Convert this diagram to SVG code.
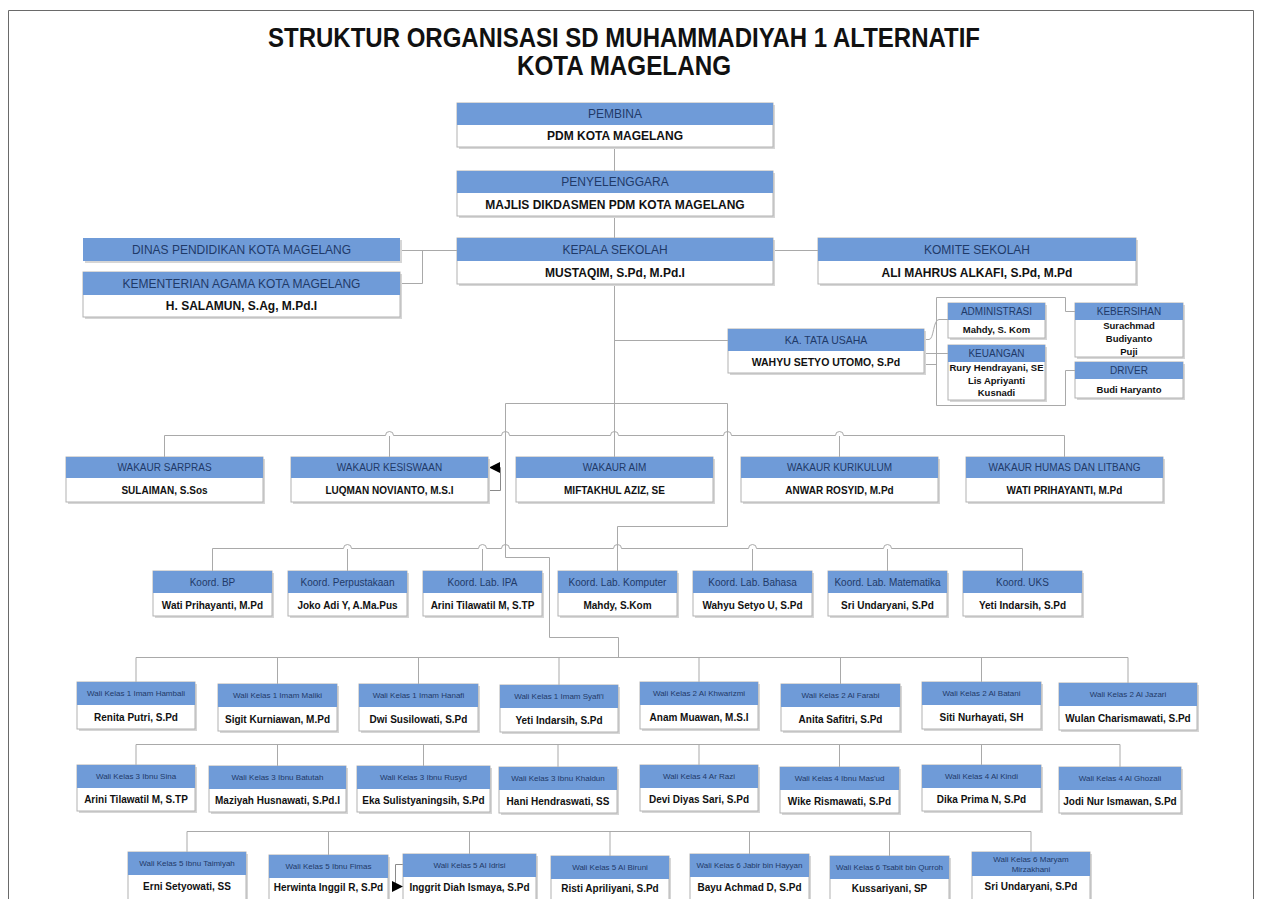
<svg xmlns="http://www.w3.org/2000/svg" width="1261" height="899" viewBox="0 0 1261 899">
<style>
.bg{fill:#ffffff}
.fr{fill:none;stroke:#6a6a6a;stroke-width:1}
.sh{fill:#d6d6d6}
.bd{fill:#ffffff;stroke:#b2b2b2;stroke-width:1}
.hd{fill:#6f9bd8}
.ln{fill:none;stroke:#a9a9a9;stroke-width:1}
.t{font-family:"Liberation Sans",Arial,Helvetica,sans-serif;text-anchor:middle}
.tt{font-family:"Liberation Sans Narrow","Liberation Sans",Arial,sans-serif;font-weight:bold;font-size:27px;fill:#111;text-anchor:middle}
.h1{font-size:12px;fill:#1f3a68}
.n1{font-size:12px;font-weight:bold;fill:#111}
.h2{font-size:10.5px;fill:#1f3a68}
.n2{font-size:10.5px;font-weight:bold;fill:#111}
.h3{font-size:10px;fill:#1f3a68}
.n3{font-size:10px;font-weight:bold;fill:#111}
.n4{font-size:9.5px;font-weight:bold;fill:#111}
.h5{font-size:8px;fill:#1f3a68}
.n5{font-size:10px;font-weight:bold;fill:#111}
</style>
<defs>
<marker id="ar" viewBox="0 0 10 10" refX="10" refY="5" markerWidth="11" markerHeight="11" markerUnits="userSpaceOnUse" orient="auto"><path d="M0,0 L10,5 L0,10 z" fill="#000"/></marker>
</defs>
<rect class="bg" x="0" y="0" width="1261" height="899"/>
<path class="fr" d="M8.5,899 V10.5 H1253.5 V899"/>
<g id="title">
<text class="tt" x="624" y="47" textLength="712" lengthAdjust="spacingAndGlyphs">STRUKTUR ORGANISASI SD MUHAMMADIYAH 1 ALTERNATIF</text>
<text class="tt" x="624" y="75" textLength="214" lengthAdjust="spacingAndGlyphs">KOTA MAGELANG</text>
</g>
<g id="connectors">
<path class="ln" d="M614.5,147 V171"/>
<path class="ln" d="M614.5,216 V238"/>
<path class="ln" d="M400,250.5 H457"/>
<path class="ln" d="M422.5,250.5 V283.5 H400"/>
<path class="ln" d="M773,250.5 H818"/>
<path class="ln" d="M614.5,284 V457"/>
<path class="ln" d="M614.5,340.5 H728"/>
<path class="ln" d="M936.5,297.5 H1065.5 V311.5 H1075"/>
<path class="ln" d="M936.5,297.5 V405.5 H1065.5 V370.5 H1075"/>
<path class="ln" d="M924,339.5 H929 C934,339.5 933,319.5 939,319.5 H948"/>
<path class="ln" d="M924,353.5 H948"/>
<path class="ln" d="M924,364.5 H936.5"/>
<path class="ln" d="M505.5,403.5 H727.5"/>
<path class="ln" d="M164.5,457 V435.5 H385.5 A4,4 0 0 1 393.5,435.5 H501.5 A4,4 0 0 1 509.5,435.5 H610.5 A4,4 0 0 1 618.5,435.5 H723.5 A4,4 0 0 1 731.5,435.5 H835.5 A4,4 0 0 1 843.5,435.5 H1064.5 V457"/>
<path class="ln" d="M389.5,436 V457"/>
<path class="ln" d="M839.5,436 V457"/>
<path class="ln" d="M505.5,403.5 V557.5 H549.5 V637.5 H618.5 V657"/>
<path class="ln" d="M727.5,403.5 V526.5 H617.5 V571"/>
<path class="ln" d="M212.5,571 V548.5 H343.5 A4,4 0 0 1 351.5,548.5 H478.5 A4,4 0 0 1 486.5,548.5 H501.5 A4,4 0 0 1 509.5,548.5 H613.5 A4,4 0 0 1 621.5,548.5 H748.5 A4,4 0 0 1 756.5,548.5 H883.5 A4,4 0 0 1 891.5,548.5 H1022.5 V571"/>
<path class="ln" d="M347.5,549 V571 M482.5,549 V571 M752.5,549 V571 M887.5,549 V571"/>
<path class="ln" d="M136,682 V657.5 H1128 V683 M277.5,657.5 V684 M418.5,657.5 V684 M559,657.5 V685 M699,657.5 V682 M840.5,657.5 V684 M981.5,657.5 V682"/>
<path class="ln" d="M136,765 V744.5 H1120 V767 M277.5,744.5 V766 M423.5,744.5 V766 M558,744.5 V767 M699,744.5 V765 M839.5,744.5 V767 M981.5,744.5 V765"/>
<path class="ln" d="M187,852 V831.5 H1031 V852 M328.5,831.5 V855 M469.5,831.5 V854 M610,831.5 V856 M749.5,831.5 V854 M889.5,831.5 V856"/>
<path class="ln" d="M489,490.5 H500.5 V467.5 H489" marker-end="url(#ar)" style="stroke:#8a8a8a"/>
<path class="ln" d="M403,864.5 H395.5 V886.5 H403" marker-end="url(#ar)" style="stroke:#8a8a8a"/>
</g>
<g id="pembina">
<rect class="sh" x="459" y="105" width="316" height="44"/>
<rect class="bd" x="457" y="103" width="316" height="44"/>
<rect class="hd" x="457" y="103" width="316" height="22"/>
<text class="t h1" x="615" y="118">PEMBINA</text>
<text class="t n1" x="615" y="140">PDM KOTA MAGELANG</text>
</g>
<g id="penyelenggara">
<rect class="sh" x="459" y="173" width="316" height="45"/>
<rect class="bd" x="457" y="171" width="316" height="45"/>
<rect class="hd" x="457" y="171" width="316" height="22"/>
<text class="t h1" x="615" y="186">PENYELENGGARA</text>
<text class="t n1" x="615" y="209">MAJLIS DIKDASMEN PDM KOTA MAGELANG</text>
</g>
<g id="kepala-sekolah">
<rect class="sh" x="459" y="240" width="316" height="46"/>
<rect class="bd" x="457" y="238" width="316" height="46"/>
<rect class="hd" x="457" y="238" width="316" height="23"/>
<text class="t h1" x="615" y="254">KEPALA SEKOLAH</text>
<text class="t n1" x="615" y="277">MUSTAQIM, S.Pd, M.Pd.I</text>
</g>
<g id="dinas-pendidikan">
<rect class="sh" x="85" y="240" width="317" height="23"/>
<rect class="hd" x="83" y="238" width="317" height="23"/>
<text class="t h1" x="241.5" y="254">DINAS PENDIDIKAN KOTA MAGELANG</text>
</g>
<g id="kementerian-agama">
<rect class="sh" x="85" y="274" width="317" height="45"/>
<rect class="bd" x="83" y="272" width="317" height="45"/>
<rect class="hd" x="83" y="272" width="317" height="23"/>
<text class="t h1" x="241.5" y="288">KEMENTERIAN AGAMA KOTA MAGELANG</text>
<text class="t n1" x="241.5" y="310">H. SALAMUN, S.Ag, M.Pd.I</text>
</g>
<g id="komite-sekolah">
<rect class="sh" x="820" y="240" width="318" height="46"/>
<rect class="bd" x="818" y="238" width="318" height="46"/>
<rect class="hd" x="818" y="238" width="318" height="23"/>
<text class="t h1" x="977" y="254">KOMITE SEKOLAH</text>
<text class="t n1" x="977" y="277">ALI MAHRUS ALKAFI, S.Pd, M.Pd</text>
</g>
<g id="tata-usaha">
<rect class="sh" x="730" y="331" width="196" height="44"/>
<rect class="bd" x="728" y="329" width="196" height="44"/>
<rect class="hd" x="728" y="329" width="196" height="22"/>
<text class="t h2" x="826" y="344">KA. TATA USAHA</text>
<text class="t n2" x="826" y="366">WAHYU SETYO UTOMO, S.Pd</text>
</g>
<g id="administrasi">
<rect class="sh" x="950" y="305" width="97" height="35"/>
<rect class="bd" x="948" y="303" width="97" height="35"/>
<rect class="hd" x="948" y="303" width="97" height="17"/>
<text class="t h3" x="996.5" y="315">ADMINISTRASI</text>
<text class="t n4" x="996.5" y="333">Mahdy, S. Kom</text>
</g>
<g id="keuangan">
<rect class="sh" x="950" y="347" width="97" height="55"/>
<rect class="bd" x="948" y="345" width="97" height="55"/>
<rect class="hd" x="948" y="345" width="97" height="17"/>
<text class="t h3" x="996.5" y="357">KEUANGAN</text>
<text class="t n4" x="996.5" y="371">Rury Hendrayani, SE</text>
<text class="t n4" x="996.5" y="384">Lis Apriyanti</text>
<text class="t n4" x="996.5" y="396">Kusnadi</text>
</g>
<g id="kebersihan">
<rect class="sh" x="1077" y="305" width="108" height="54"/>
<rect class="bd" x="1075" y="303" width="108" height="54"/>
<rect class="hd" x="1075" y="303" width="108" height="17"/>
<text class="t h3" x="1129" y="315">KEBERSIHAN</text>
<text class="t n4" x="1129" y="329">Surachmad</text>
<text class="t n4" x="1129" y="342">Budiyanto</text>
<text class="t n4" x="1129" y="355">Puji</text>
</g>
<g id="driver">
<rect class="sh" x="1077" y="364" width="108" height="36"/>
<rect class="bd" x="1075" y="362" width="108" height="36"/>
<rect class="hd" x="1075" y="362" width="108" height="17"/>
<text class="t h3" x="1129" y="374">DRIVER</text>
<text class="t n4" x="1129" y="392.5">Budi Haryanto</text>
</g>
<g id="wakaur-sarpras">
<rect class="sh" x="68" y="459" width="197" height="45"/>
<rect class="bd" x="66" y="457" width="197" height="45"/>
<rect class="hd" x="66" y="457" width="197" height="21"/>
<text class="t h3" x="164.5" y="471">WAKAUR SARPRAS</text>
<text class="t n3" x="164.5" y="494">SULAIMAN, S.Sos</text>
</g>
<g id="wakaur-kesiswaan">
<rect class="sh" x="293" y="459" width="197" height="45"/>
<rect class="bd" x="291" y="457" width="197" height="45"/>
<rect class="hd" x="291" y="457" width="197" height="21"/>
<text class="t h3" x="389.5" y="471">WAKAUR KESISWAAN</text>
<text class="t n3" x="389.5" y="494">LUQMAN NOVIANTO, M.S.I</text>
</g>
<g id="wakaur-aim">
<rect class="sh" x="518" y="459" width="197" height="45"/>
<rect class="bd" x="516" y="457" width="197" height="45"/>
<rect class="hd" x="516" y="457" width="197" height="21"/>
<text class="t h3" x="614.5" y="471">WAKAUR AIM</text>
<text class="t n3" x="614.5" y="494">MIFTAKHUL AZIZ, SE</text>
</g>
<g id="wakaur-kurikulum">
<rect class="sh" x="743" y="459" width="197" height="45"/>
<rect class="bd" x="741" y="457" width="197" height="45"/>
<rect class="hd" x="741" y="457" width="197" height="21"/>
<text class="t h3" x="839.5" y="471">WAKAUR KURIKULUM</text>
<text class="t n3" x="839.5" y="494">ANWAR ROSYID, M.Pd</text>
</g>
<g id="wakaur-humas">
<rect class="sh" x="968" y="459" width="197" height="45"/>
<rect class="bd" x="966" y="457" width="197" height="45"/>
<rect class="hd" x="966" y="457" width="197" height="21"/>
<text class="t h3" x="1064.5" y="471">WAKAUR HUMAS DAN LITBANG</text>
<text class="t n3" x="1064.5" y="494">WATI PRIHAYANTI, M.Pd</text>
</g>
<g id="koord-bp">
<rect class="sh" x="155" y="573" width="119" height="45"/>
<rect class="bd" x="153" y="571" width="119" height="45"/>
<rect class="hd" x="153" y="571" width="119" height="22"/>
<text class="t h3" x="212.5" y="585.5">Koord. BP</text>
<text class="t n3" x="212.5" y="608.5">Wati Prihayanti, M.Pd</text>
</g>
<g id="koord-perpustakaan">
<rect class="sh" x="290" y="573" width="119" height="45"/>
<rect class="bd" x="288" y="571" width="119" height="45"/>
<rect class="hd" x="288" y="571" width="119" height="22"/>
<text class="t h3" x="347.5" y="585.5">Koord. Perpustakaan</text>
<text class="t n3" x="347.5" y="608.5">Joko Adi Y, A.Ma.Pus</text>
</g>
<g id="koord-lab-ipa">
<rect class="sh" x="425" y="573" width="119" height="45"/>
<rect class="bd" x="423" y="571" width="119" height="45"/>
<rect class="hd" x="423" y="571" width="119" height="22"/>
<text class="t h3" x="482.5" y="585.5">Koord. Lab. IPA</text>
<text class="t n3" x="482.5" y="608.5">Arini Tilawatil M, S.TP</text>
</g>
<g id="koord-lab-komputer">
<rect class="sh" x="560" y="573" width="119" height="45"/>
<rect class="bd" x="558" y="571" width="119" height="45"/>
<rect class="hd" x="558" y="571" width="119" height="22"/>
<text class="t h3" x="617.5" y="585.5">Koord. Lab. Komputer</text>
<text class="t n3" x="617.5" y="608.5">Mahdy, S.Kom</text>
</g>
<g id="koord-lab-bahasa">
<rect class="sh" x="695" y="573" width="119" height="45"/>
<rect class="bd" x="693" y="571" width="119" height="45"/>
<rect class="hd" x="693" y="571" width="119" height="22"/>
<text class="t h3" x="752.5" y="585.5">Koord. Lab. Bahasa</text>
<text class="t n3" x="752.5" y="608.5">Wahyu Setyo U, S.Pd</text>
</g>
<g id="koord-lab-matematika">
<rect class="sh" x="830" y="573" width="119" height="45"/>
<rect class="bd" x="828" y="571" width="119" height="45"/>
<rect class="hd" x="828" y="571" width="119" height="22"/>
<text class="t h3" x="887.5" y="585.5">Koord. Lab. Matematika</text>
<text class="t n3" x="887.5" y="608.5">Sri Undaryani, S.Pd</text>
</g>
<g id="koord-uks">
<rect class="sh" x="965" y="573" width="119" height="45"/>
<rect class="bd" x="963" y="571" width="119" height="45"/>
<rect class="hd" x="963" y="571" width="119" height="22"/>
<text class="t h3" x="1022.5" y="585.5">Koord. UKS</text>
<text class="t n3" x="1022.5" y="608.5">Yeti Indarsih, S.Pd</text>
</g>
<g id="wk1-hambali">
<rect class="sh" x="79" y="684" width="118" height="47"/>
<rect class="bd" x="77" y="682" width="118" height="47"/>
<rect class="hd" x="77" y="682" width="118" height="23"/>
<text class="t h5" x="136" y="696">Wali Kelas 1 Imam Hambali</text>
<text class="t n5" x="136" y="720.5">Renita Putri, S.Pd</text>
</g>
<g id="wk1-maliki">
<rect class="sh" x="220" y="686" width="119" height="47"/>
<rect class="bd" x="218" y="684" width="119" height="47"/>
<rect class="hd" x="218" y="684" width="119" height="23"/>
<text class="t h5" x="277.5" y="698">Wali Kelas 1 Imam Maliki</text>
<text class="t n5" x="277.5" y="722.5">Sigit Kurniawan, M.Pd</text>
</g>
<g id="wk1-hanafi">
<rect class="sh" x="361" y="686" width="119" height="47"/>
<rect class="bd" x="359" y="684" width="119" height="47"/>
<rect class="hd" x="359" y="684" width="119" height="23"/>
<text class="t h5" x="418.5" y="698">Wali Kelas 1 Imam Hanafi</text>
<text class="t n5" x="418.5" y="722.5">Dwi Susilowati, S.Pd</text>
</g>
<g id="wk1-syafii">
<rect class="sh" x="502" y="687" width="118" height="47"/>
<rect class="bd" x="500" y="685" width="118" height="47"/>
<rect class="hd" x="500" y="685" width="118" height="23"/>
<text class="t h5" x="559" y="699">Wali Kelas 1 Imam Syafi'i</text>
<text class="t n5" x="559" y="723.5">Yeti Indarsih, S.Pd</text>
</g>
<g id="wk2-khwarizmi">
<rect class="sh" x="642" y="684" width="118" height="47"/>
<rect class="bd" x="640" y="682" width="118" height="47"/>
<rect class="hd" x="640" y="682" width="118" height="23"/>
<text class="t h5" x="699" y="696">Wali Kelas 2 Al Khwarizmi</text>
<text class="t n5" x="699" y="720.5">Anam Muawan, M.S.I</text>
</g>
<g id="wk2-farabi">
<rect class="sh" x="783" y="686" width="119" height="47"/>
<rect class="bd" x="781" y="684" width="119" height="47"/>
<rect class="hd" x="781" y="684" width="119" height="23"/>
<text class="t h5" x="840.5" y="698">Wali Kelas 2 Al Farabi</text>
<text class="t n5" x="840.5" y="722.5">Anita Safitri, S.Pd</text>
</g>
<g id="wk2-batani">
<rect class="sh" x="924" y="684" width="119" height="47"/>
<rect class="bd" x="922" y="682" width="119" height="47"/>
<rect class="hd" x="922" y="682" width="119" height="23"/>
<text class="t h5" x="981.5" y="696">Wali Kelas 2 Al Batani</text>
<text class="t n5" x="981.5" y="720.5">Siti Nurhayati, SH</text>
</g>
<g id="wk2-jazari">
<rect class="sh" x="1061" y="685" width="138" height="47"/>
<rect class="bd" x="1059" y="683" width="138" height="47"/>
<rect class="hd" x="1059" y="683" width="138" height="23"/>
<text class="t h5" x="1128" y="697">Wali Kelas 2 Al Jazari</text>
<text class="t n5" x="1128" y="721.5">Wulan Charismawati, S.Pd</text>
</g>
<g id="wk3-sina">
<rect class="sh" x="79" y="767" width="118" height="46"/>
<rect class="bd" x="77" y="765" width="118" height="46"/>
<rect class="hd" x="77" y="765" width="118" height="23"/>
<text class="t h5" x="136" y="779">Wali Kelas 3 Ibnu Sina</text>
<text class="t n5" x="136" y="803">Arini Tilawatil M, S.TP</text>
</g>
<g id="wk3-batutah">
<rect class="sh" x="211" y="768" width="137" height="46"/>
<rect class="bd" x="209" y="766" width="137" height="46"/>
<rect class="hd" x="209" y="766" width="137" height="23"/>
<text class="t h5" x="277.5" y="780">Wali Kelas 3 Ibnu Batutah</text>
<text class="t n5" x="277.5" y="804">Maziyah Husnawati, S.Pd.I</text>
</g>
<g id="wk3-rusyd">
<rect class="sh" x="359" y="768" width="133" height="46"/>
<rect class="bd" x="357" y="766" width="133" height="46"/>
<rect class="hd" x="357" y="766" width="133" height="23"/>
<text class="t h5" x="423.5" y="780">Wali Kelas 3 Ibnu Rusyd</text>
<text class="t n5" x="423.5" y="804">Eka Sulistyaningsih, S.Pd</text>
</g>
<g id="wk3-khaldun">
<rect class="sh" x="501" y="769" width="118" height="46"/>
<rect class="bd" x="499" y="767" width="118" height="46"/>
<rect class="hd" x="499" y="767" width="118" height="23"/>
<text class="t h5" x="558" y="781">Wali Kelas 3 Ibnu Khaldun</text>
<text class="t n5" x="558" y="805">Hani Hendraswati, SS</text>
</g>
<g id="wk4-razi">
<rect class="sh" x="642" y="767" width="118" height="46"/>
<rect class="bd" x="640" y="765" width="118" height="46"/>
<rect class="hd" x="640" y="765" width="118" height="23"/>
<text class="t h5" x="699" y="779">Wali Kelas 4 Ar Razi</text>
<text class="t n5" x="699" y="803">Devi Diyas Sari, S.Pd</text>
</g>
<g id="wk4-masud">
<rect class="sh" x="782" y="769" width="119" height="46"/>
<rect class="bd" x="780" y="767" width="119" height="46"/>
<rect class="hd" x="780" y="767" width="119" height="23"/>
<text class="t h5" x="839.5" y="781">Wali Kelas 4 Ibnu Mas'ud</text>
<text class="t n5" x="839.5" y="805">Wike Rismawati, S.Pd</text>
</g>
<g id="wk4-kindi">
<rect class="sh" x="924" y="767" width="119" height="46"/>
<rect class="bd" x="922" y="765" width="119" height="46"/>
<rect class="hd" x="922" y="765" width="119" height="23"/>
<text class="t h5" x="981.5" y="779">Wali Kelas 4 Al Kindi</text>
<text class="t n5" x="981.5" y="803">Dika Prima N, S.Pd</text>
</g>
<g id="wk4-ghozali">
<rect class="sh" x="1061" y="769" width="122" height="46"/>
<rect class="bd" x="1059" y="767" width="122" height="46"/>
<rect class="hd" x="1059" y="767" width="122" height="23"/>
<text class="t h5" x="1120" y="781">Wali Kelas 4 Al Ghozali</text>
<text class="t n5" x="1120" y="805">Jodi Nur Ismawan, S.Pd</text>
</g>
<g id="wk5-taimiyah">
<rect class="sh" x="130" y="854" width="118" height="48"/>
<rect class="bd" x="128" y="852" width="118" height="48"/>
<rect class="hd" x="128" y="852" width="118" height="23"/>
<text class="t h5" x="187" y="866">Wali Kelas 5 Ibnu Taimiyah</text>
<text class="t n5" x="187" y="890">Erni Setyowati, SS</text>
</g>
<g id="wk5-fimas">
<rect class="sh" x="271" y="857" width="119" height="48"/>
<rect class="bd" x="269" y="855" width="119" height="48"/>
<rect class="hd" x="269" y="855" width="119" height="23"/>
<text class="t h5" x="328.5" y="869">Wali Kelas 5 Ibnu Fimas</text>
<text class="t n5" x="328.5" y="891">Herwinta Inggil R, S.Pd</text>
</g>
<g id="wk5-idrisi">
<rect class="sh" x="405" y="856" width="133" height="48"/>
<rect class="bd" x="403" y="854" width="133" height="48"/>
<rect class="hd" x="403" y="854" width="133" height="23"/>
<text class="t h5" x="469.5" y="868">Wali Kelas 5 Al Idrisi</text>
<text class="t n5" x="469.5" y="891">Inggrit Diah Ismaya, S.Pd</text>
</g>
<g id="wk5-biruni">
<rect class="sh" x="553" y="858" width="118" height="48"/>
<rect class="bd" x="551" y="856" width="118" height="48"/>
<rect class="hd" x="551" y="856" width="118" height="23"/>
<text class="t h5" x="610" y="870">Wali Kelas 5 Al Biruni</text>
<text class="t n5" x="610" y="892">Risti Apriliyani, S.Pd</text>
</g>
<g id="wk6-jabir">
<rect class="sh" x="692" y="856" width="119" height="48"/>
<rect class="bd" x="690" y="854" width="119" height="48"/>
<rect class="hd" x="690" y="854" width="119" height="23"/>
<text class="t h5" x="749.5" y="868">Wali Kelas 6 Jabir bin Hayyan</text>
<text class="t n5" x="749.5" y="891">Bayu Achmad D, S.Pd</text>
</g>
<g id="wk6-tsabit">
<rect class="sh" x="832" y="858" width="119" height="48"/>
<rect class="bd" x="830" y="856" width="119" height="48"/>
<rect class="hd" x="830" y="856" width="119" height="23"/>
<text class="t h5" x="889.5" y="870">Wali Kelas 6 Tsabit bin Qurroh</text>
<text class="t n5" x="889.5" y="892">Kussariyani, SP</text>
</g>
<g id="wk6-maryam">
<rect class="sh" x="974" y="854" width="118" height="48"/>
<rect class="bd" x="972" y="852" width="118" height="48"/>
<rect class="hd" x="972" y="852" width="118" height="24"/>
<text class="t h5" x="1031" y="861.5">Wali Kelas 6 Maryam</text>
<text class="t h5" x="1031" y="871.5">Mirzakhani</text>
<text class="t n5" x="1031" y="890">Sri Undaryani, S.Pd</text>
</g>
</svg>
